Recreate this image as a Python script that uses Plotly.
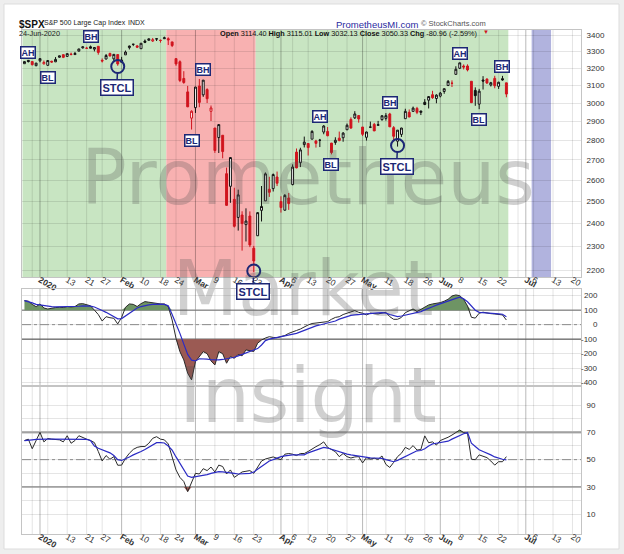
import numpy as np
import plotly.graph_objects as go
from datetime import datetime

# ---------------- data ----------------
dates = [
    "2019-12-26", "2019-12-27", "2019-12-30", "2019-12-31",
    "2020-01-02", "2020-01-03", "2020-01-06", "2020-01-07", "2020-01-08", "2020-01-09", "2020-01-10",
    "2020-01-13", "2020-01-14", "2020-01-15", "2020-01-16", "2020-01-17",
    "2020-01-21", "2020-01-22", "2020-01-23", "2020-01-24",
    "2020-01-27", "2020-01-28", "2020-01-29", "2020-01-30", "2020-01-31",
    "2020-02-03", "2020-02-04", "2020-02-05", "2020-02-06", "2020-02-07",
    "2020-02-10", "2020-02-11", "2020-02-12", "2020-02-13", "2020-02-14",
    "2020-02-18", "2020-02-19", "2020-02-20", "2020-02-21",
    "2020-02-24", "2020-02-25", "2020-02-26", "2020-02-27", "2020-02-28",
    "2020-03-02", "2020-03-03", "2020-03-04", "2020-03-05", "2020-03-06",
    "2020-03-09", "2020-03-10", "2020-03-11", "2020-03-12", "2020-03-13",
    "2020-03-16", "2020-03-17", "2020-03-18", "2020-03-19", "2020-03-20",
    "2020-03-23", "2020-03-24", "2020-03-25", "2020-03-26", "2020-03-27",
    "2020-03-30", "2020-03-31",
    "2020-04-01", "2020-04-02", "2020-04-03",
    "2020-04-06", "2020-04-07", "2020-04-08", "2020-04-09",
    "2020-04-13", "2020-04-14", "2020-04-15", "2020-04-16", "2020-04-17",
    "2020-04-20", "2020-04-21", "2020-04-22", "2020-04-23", "2020-04-24",
    "2020-04-27", "2020-04-28", "2020-04-29", "2020-04-30",
    "2020-05-01",
    "2020-05-04", "2020-05-05", "2020-05-06", "2020-05-07", "2020-05-08",
    "2020-05-11", "2020-05-12", "2020-05-13", "2020-05-14", "2020-05-15",
    "2020-05-18", "2020-05-19", "2020-05-20", "2020-05-21", "2020-05-22",
    "2020-05-26", "2020-05-27", "2020-05-28", "2020-05-29",
    "2020-06-01", "2020-06-02", "2020-06-03", "2020-06-04", "2020-06-05",
    "2020-06-08", "2020-06-09", "2020-06-10", "2020-06-11", "2020-06-12",
    "2020-06-15", "2020-06-16", "2020-06-17", "2020-06-18", "2020-06-19",
    "2020-06-22", "2020-06-23", "2020-06-24",
]
future_dates = [
    "2020-06-25", "2020-06-26", "2020-06-29", "2020-06-30", "2020-07-01", "2020-07-02",
    "2020-07-06", "2020-07-07", "2020-07-08", "2020-07-09", "2020-07-10",
    "2020-07-13", "2020-07-14", "2020-07-15", "2020-07-16", "2020-07-17",
    "2020-07-20", "2020-07-21", "2020-07-22",
]

open_ = [
    3227.20, 3247.23, 3240.09, 3215.18,
    3244.67, 3226.36, 3217.55, 3241.86, 3238.59, 3266.03, 3281.81, 3271.13, 3285.35, 3282.27, 3302.97,
    3323.66, 3321.03, 3330.02, 3315.77, 3333.10, 3247.16, 3255.35, 3289.46, 3256.45, 3282.33,
    3235.66, 3280.61, 3324.91, 3344.92, 3335.54, 3318.28, 3365.87, 3370.50, 3365.90, 3378.08,
    3369.04, 3380.39, 3380.45, 3360.50, 3257.61, 3238.94, 3139.90, 3062.54, 2916.90,
    2974.28, 3096.46, 3045.75, 3075.70, 2954.20, 2863.89, 2813.48, 2825.60, 2630.86, 2569.99,
    2508.59, 2425.66, 2436.50, 2393.48, 2431.94, 2290.71, 2344.44, 2457.77, 2501.29, 2555.87,
    2558.98, 2614.69,
    2498.08, 2458.54, 2514.92, 2578.28, 2738.65, 2685.00, 2776.99, 2782.46, 2805.10, 2795.64,
    2799.34, 2842.43, 2845.62, 2784.81, 2787.89, 2810.42, 2812.64, 2854.65, 2909.96, 2918.46, 2930.91,
    2869.09, 2815.01, 2868.88, 2883.14, 2878.26, 2908.83, 2915.46, 2939.50, 2865.86, 2794.54,
    2829.95, 2913.86, 2948.59, 2953.63, 2969.95, 2948.05, 3004.08, 3015.65, 3046.61, 3025.17,
    3038.78, 3064.78, 3098.90, 3111.56, 3163.84, 3199.92, 3213.32, 3213.42, 3123.53, 3071.04,
    2993.76, 3131.00, 3136.13, 3101.64, 3140.29, 3094.42, 3138.70, 3114.40,
]
high = [
    3240.08, 3247.93, 3240.92, 3231.72,
    3258.14, 3246.15, 3246.84, 3244.91, 3267.07, 3275.58, 3282.99, 3288.13, 3294.25, 3298.66, 3317.11,
    3329.88, 3329.79, 3337.77, 3326.88, 3333.18, 3258.85, 3285.78, 3293.47, 3285.91, 3282.33,
    3268.44, 3306.92, 3337.58, 3347.96, 3341.42, 3352.26, 3375.63, 3381.47, 3385.09, 3380.69,
    3375.01, 3393.52, 3389.15, 3360.76, 3259.81, 3246.99, 3182.51, 3097.07, 2959.72,
    3090.96, 3136.72, 3130.97, 3083.04, 2985.93, 2863.89, 2882.59, 2825.60, 2660.95, 2711.33,
    2562.98, 2553.93, 2453.57, 2466.97, 2453.01, 2300.73, 2449.71, 2571.42, 2637.01, 2615.91,
    2631.80, 2641.39,
    2522.75, 2533.22, 2538.18, 2676.85, 2756.89, 2760.75, 2818.57, 2782.46, 2851.85, 2801.88,
    2806.51, 2879.22, 2868.98, 2785.54, 2815.10, 2844.90, 2842.71, 2887.72, 2921.15, 2954.86, 2930.91,
    2869.09, 2844.24, 2898.23, 2891.11, 2901.92, 2932.16, 2944.25, 2945.82, 2874.14, 2852.80,
    2865.01, 2968.09, 2964.21, 2980.29, 2978.50, 2956.76, 3021.72, 3036.25, 3068.67, 3049.17,
    3062.18, 3081.07, 3130.94, 3128.91, 3211.72, 3233.13, 3222.71, 3223.27, 3123.53, 3088.42,
    3079.76, 3153.45, 3141.16, 3120.00, 3155.53, 3120.92, 3154.90, 3115.01,
]
low = [
    3227.20, 3234.37, 3216.57, 3212.03,
    3235.53, 3222.34, 3214.64, 3232.43, 3236.67, 3263.67, 3260.86, 3268.43, 3277.19, 3280.69, 3302.82,
    3318.86, 3316.61, 3320.04, 3301.87, 3281.53, 3234.50, 3253.22, 3271.89, 3242.80, 3214.68,
    3235.66, 3280.61, 3313.75, 3334.39, 3322.12, 3317.77, 3352.72, 3369.72, 3360.52, 3366.15,
    3355.61, 3378.83, 3341.02, 3328.45, 3214.65, 3118.77, 3108.99, 2977.39, 2855.84,
    2945.19, 2976.63, 3034.38, 2999.83, 2901.54, 2734.43, 2734.00, 2707.22, 2478.86, 2492.37,
    2380.94, 2367.04, 2280.52, 2319.78, 2295.56, 2191.86, 2344.44, 2407.53, 2500.72, 2520.02,
    2545.28, 2571.15,
    2447.49, 2455.79, 2459.96, 2574.57, 2657.67, 2663.30, 2762.36, 2721.17, 2805.10, 2761.54,
    2764.32, 2830.88, 2820.43, 2727.10, 2775.95, 2794.26, 2791.76, 2852.89, 2860.71, 2912.16, 2892.47,
    2821.61, 2797.85, 2863.55, 2847.65, 2876.48, 2902.88, 2903.44, 2869.59, 2793.15, 2766.64,
    2816.78, 2913.86, 2922.35, 2953.63, 2938.57, 2933.59, 2988.17, 2969.75, 3023.40, 2998.61,
    3031.54, 3051.64, 3098.90, 3090.41, 3163.84, 3196.00, 3193.11, 3181.49, 2999.49, 2984.47,
    2965.66, 3076.06, 3108.03, 3093.51, 3083.11, 3079.39, 3127.12, 3032.13,
]
close = [
    3239.91, 3240.02, 3221.29, 3230.78,
    3257.85, 3234.85, 3246.28, 3237.18, 3253.05, 3274.70, 3265.35, 3288.13, 3283.15, 3289.29, 3316.81,
    3329.62, 3320.79, 3321.75, 3325.54, 3295.47, 3243.63, 3276.24, 3273.40, 3283.66, 3225.52,
    3248.92, 3297.59, 3334.69, 3345.78, 3327.71, 3352.09, 3357.75, 3379.45, 3373.94, 3380.16,
    3370.29, 3386.15, 3373.23, 3337.75, 3225.89, 3128.21, 3116.39, 2978.76, 2954.22,
    3090.23, 3003.37, 3130.12, 3023.94, 2972.37, 2746.56, 2882.23, 2741.38, 2480.64, 2711.02,
    2386.13, 2529.19, 2398.10, 2409.39, 2304.92, 2237.40, 2447.33, 2475.56, 2630.07, 2541.47,
    2626.65, 2584.59,
    2470.50, 2526.90, 2488.65, 2663.68, 2659.41, 2749.98, 2789.82, 2761.63, 2846.06, 2783.36,
    2799.55, 2874.56, 2823.16, 2736.56, 2799.31, 2797.80, 2836.74, 2878.48, 2863.39, 2939.51, 2912.43,
    2830.71, 2842.74, 2868.44, 2848.42, 2881.19, 2929.80, 2930.32, 2870.12, 2820.00, 2852.50,
    2863.70, 2953.91, 2922.94, 2971.61, 2948.51, 2955.45, 2991.77, 3036.13, 3029.73, 3044.31,
    3055.73, 3080.82, 3122.87, 3112.35, 3193.93, 3232.39, 3207.18, 3190.14, 3002.10, 3041.31,
    3066.59, 3124.74, 3113.49, 3115.34, 3097.74, 3117.86, 3131.29, 3050.33,
]
prev_close = 3223.38  # close before the first bar (sets the first candle's colour)

cci = [
    166, 162, 140, 124,
    143, 115, 108, 115, 118, 120, 118, 125, 122, 125, 143, 145, 138, 130, 100, 70, 25, 55, 48, 44, 5,
    50, 120, 143, 140, 125, 145, 159, 155, 150, 145, 143, 143, 125, 32, -94, -186, -243, -335, -381,
    -255, -220, -186, -200, -250, -278, -186, -200, -266, -220, -232, -205, -215, -174, -180, -185,
    -128, -106, -92, -83, -88, -90,
    -82, -75, -60, -48, -40, -30, -15, -2, 8, 12, 14, 18, 21, 37, 50, 55, 70, 79, 90, 97, 85,
    79, 67, 79, 76, 74, 80, 85, 55, 37, 37, 50, 83, 97, 108, 90, 105, 120, 136, 143, 147,
    152, 162, 175, 198, 205, 200, 175, 129, 51, 45, 79, 86, 80, 76, 74, 72, 67, 32,
]
cci_avg = [
    166, 160, 150, 140,
    135, 130, 126, 124, 123, 123, 123, 124, 124, 125, 127, 129, 130, 128, 122, 112, 98, 85, 70, 55, 40,
    42, 60, 80, 100, 115, 125, 132, 137, 140, 142, 142, 140, 130, 70, 10, -60, -134, -205, -245,
    -250, -235, -235, -238, -242, -245, -243, -240, -236, -232, -225, -215, -205, -195, -186, -178,
    -165, -140, -110, -100, -94, -90,
    -83, -80, -75, -68, -60, -50, -40, -28, -15, -8, -2, 5, 10, 14, 25, 38, 48, 58, 64, 68, 71,
    73, 74, 76, 78, 81, 83, 80, 70, 62, 56, 60, 66, 72, 77, 82, 90, 102, 115, 124, 135,
    145, 155, 163, 172, 181, 189, 178, 158, 125, 100, 85, 84, 82, 79, 77, 75, 72, 55,
]
rsi = [
    64, 65, 58, 64,
    70, 63, 65.5, 65, 65, 64.5, 63, 67.5, 62, 64, 67.5, 66, 65, 64, 62.5, 56, 49, 53, 50.3, 52.2, 45.9,
    46, 51, 54.7, 57.5, 59, 59.6, 59.6, 62, 65.6, 66.8, 65, 64.5, 61.5, 52.5, 42.5, 37, 34, 26.6, 33,
    40, 39.5, 43.4, 42, 44.6, 41, 46, 45, 39.5, 42.5, 37, 39, 41, 41.5, 42, 40, 45, 49, 50.5, 51.5, 52, 51,
    50, 54, 54.5, 54, 53, 54.5, 54.5, 56, 58, 59.5, 61, 63, 59, 57.5, 55.8, 52.2, 54.5, 52.2, 51.2, 52, 52.2,
    47.6, 51.5, 50.5, 51, 50.3, 52.7, 46.5, 44.3, 48, 52.2, 54.7, 59, 57.5, 60.3, 57, 57.5, 67.4, 62.4, 63, 60.7,
    64, 65, 66.4, 68, 70, 71.7, 69.8, 69.3, 50.3, 50, 53.5, 52.2, 51.5, 49, 46, 48.5, 48.5, 52.2,
]
rsi_avg = [
    64, 64.5, 64.5, 64.8,
    65, 65, 65, 65, 65, 65, 65, 65, 65, 65, 65, 65, 64.8, 64, 60, 58.3, 57, 56, 55, 53, 50,
    49.4, 50.5, 52, 53.5, 54.5, 56, 57.5, 59, 61, 62.4, 62.4, 62.2, 60, 57, 52, 47, 42, 38, 37.1,
    37.5, 38, 38.5, 39, 40, 40.8, 41.2, 41, 40.8, 40.5, 40, 39.5, 39.5, 39.8, 40, 41, 43, 45, 47, 49, 50, 51.2,
    52.2, 52.8, 53.3, 53.5, 53.5, 53.5, 53.5, 55, 56, 56.7, 58, 59, 58.5, 57.5, 56.5, 55.5, 54.8, 54, 53.5, 53, 52.5,
    52, 51.7, 51.3, 51.2, 51, 51, 50, 49, 48.5, 49.5, 51, 52.5, 54, 55.5, 56.5, 56.7, 58, 60, 61.5, 62,
    62.4, 63, 63.5, 65, 66.5, 68, 69, 69.8, 62, 59.6, 57.2, 56, 55, 53.5, 52, 51, 50.3, 49.9,
]

tick_labels = [
    ("2020-01-02", "<b>2020</b>"), ("2020-01-13", "13"), ("2020-01-21", "21"), ("2020-01-27", "27"),
    ("2020-02-03", "<b>Feb</b>"), ("2020-02-10", "10"), ("2020-02-18", "18"), ("2020-02-24", "24"),
    ("2020-03-02", "<b>Mar</b>"), ("2020-03-09", "9"), ("2020-03-16", "16"), ("2020-03-23", "23"),
    ("2020-04-01", "<b>Apr</b>"), ("2020-04-06", "6"), ("2020-04-13", "13"), ("2020-04-20", "20"),
    ("2020-04-27", "27"), ("2020-05-01", "<b>May</b>"), ("2020-05-11", "11"), ("2020-05-18", "18"),
    ("2020-05-26", "26"), ("2020-06-01", "<b>Jun</b>"), ("2020-06-08", "8"), ("2020-06-15", "15"),
    ("2020-06-22", "22"), ("2020-07-01", "<b>Jul</b>"), ("2020-07-06", "6"), ("2020-07-13", "13"),
    ("2020-07-20", "20"),
]
week_starts = [
    "2019-12-30", "2020-01-06", "2020-01-13", "2020-01-21", "2020-01-27", "2020-02-10", "2020-02-18",
    "2020-02-24", "2020-03-09", "2020-03-16", "2020-03-23", "2020-03-30", "2020-04-06", "2020-04-13",
    "2020-04-20", "2020-04-27", "2020-05-04", "2020-05-11", "2020-05-18", "2020-05-26", "2020-06-08",
    "2020-06-15", "2020-06-22", "2020-06-29", "2020-07-06", "2020-07-13", "2020-07-20",
]
month_starts = ["2020-01-02", "2020-02-03", "2020-03-02", "2020-04-01", "2020-05-01", "2020-06-01", "2020-07-01"]

price_ticks = [2200, 2300, 2400, 2500, 2600, 2700, 2800, 2900, 3000, 3100, 3200, 3300, 3400]
cci_ticks = [200, 100, 0, -100, -200, -300, -400]
rsi_ticks = [10, 20, 30, 40, 50, 60, 70, 80, 90]
rsi_labeled = [10, 30, 50, 70, 90]

regions = [  # (from, to, colour)
    ("2019-12-26", "2020-02-19", "#c8e5c2"),
    ("2020-02-20", "2020-03-23", "#f8b1b1"),
    ("2020-03-24", "2020-06-24", "#c8e5c2"),
    ("2020-07-06", "2020-07-10", "#b1b3de"),
]
labels = [  # (text, date, price)
    ("AH", "2019-12-27", 3296), ("BL", "2020-01-06", 3144), ("BH", "2020-01-22", 3392),
    ("AH", "2020-02-19", 3455), ("BH", "2020-03-04", 3191), ("BL", "2020-02-28", 2797),
    ("AH", "2020-04-16", 2925), ("BL", "2020-04-21", 2676), ("BH", "2020-05-12", 3001),
    ("AH", "2020-06-08", 3287), ("BH", "2020-06-23", 3209), ("BL", "2020-06-15", 2908),
]
stcl = [("2020-01-31", 3210), ("2020-03-23", 2196), ("2020-05-14", 2772)]

# ---------------- layout constants ----------------
W, H = 624, 554
ML, MR, MT, MB = 22, 43, 30, 20
PW, PH = W - ML - MR, H - MT - MB


def fx(px):
    return (px - ML) / PW


def fy(py):
    return (H - MB - py) / PH


XR = [-0.63, 143.2]
MAIN_R = [np.log10(2171.6), np.log10(3435.6)]
CCI_R = [-423, 246]
RSI_R = [-4.4, 103.9]
MAIN_TOP, MAIN_BOT = 30, 277
CCI_TOP, CCI_BOT = 289, 386
RSI_TOP, RSI_BOT = 386, 534
dom_main = [fy(MAIN_BOT), 1.0]
dom_cci = [fy(CCI_BOT), fy(CCI_TOP)]
dom_rsi = [0.0, fy(RSI_TOP)]

NAVY = "#1c2775"
RED = "#d0141e"
BLACK = "#111111"
BORDER = "#c4c4c4"
GRID = "rgba(0,0,0,0.10)"
FONT = "Liberation Sans, Arial, sans-serif"


def main_val(py):
    return 10 ** (MAIN_R[1] - (py - MAIN_TOP) / (MAIN_BOT - MAIN_TOP) * (MAIN_R[1] - MAIN_R[0]))


def lin_val(py, top, bot, rng):
    return rng[1] - (py - top) / (bot - top) * (rng[1] - rng[0])


def xval(px):
    return XR[0] + (px - ML) / PW * (XR[1] - XR[0])


pos = {d: i for i, d in enumerate(dates + future_dates)}
x = [pos[d] for d in dates]

fig = go.Figure()

# watermark (behind the marks); each word anchored inside the panel it is centred on
WM_FONT = dict(family="DejaVu Sans, sans-serif", size=76, color="rgba(80,80,80,0.27)")
for word, cx, yv, xa, ya in (
        ("Prometheus", 308, main_val(185), "x", "y"),
        ("Market", 303, lin_val(296, CCI_TOP, CCI_BOT, CCI_R), "x2", "y2"),
        ("Insight", 308, lin_val(403, RSI_TOP, RSI_BOT, RSI_R), "x3", "y3")):
    fig.add_trace(go.Scatter(
        x=[xval(cx)], y=[yv], mode="text", text=[word], textposition="middle center",
        textfont=WM_FONT, cliponaxis=False, hoverinfo="skip", showlegend=False, xaxis=xa, yaxis=ya))

# candles: black when close >= previous close, red otherwise; hollow when close > open
prev = [prev_close] + close[:-1]
up = [c >= p for c, p in zip(close, prev)]


def pick(arr, mask):
    return [a for a, m in zip(arr, mask) if m]


for mask, col in ((up, BLACK), ([not u for u in up], RED)):
    fig.add_trace(go.Candlestick(
        x=pick(x, mask), open=pick(open_, mask), high=pick(high, mask),
        low=pick(low, mask), close=pick(close, mask),
        increasing=dict(line=dict(color=col, width=1), fillcolor="white"),
        decreasing=dict(line=dict(color=col, width=1), fillcolor=col),
        whiskerwidth=0, hoverinfo="skip", showlegend=False, xaxis="x", yaxis="y"))

# STCL circles
fig.add_trace(go.Scatter(
    x=[pos[d] for d, _ in stcl], y=[p for _, p in stcl], mode="markers",
    marker=dict(symbol="circle-open", size=13, color=NAVY, line=dict(width=2, color=NAVY)),
    cliponaxis=False, hoverinfo="skip", showlegend=False, xaxis="x", yaxis="y"))

GREEN_FILL = "#6e9464"
BROWN_FILL = "#9b5a53"


def band(xa, ya, base, vals, color):
    fig.add_trace(go.Scatter(x=x, y=[base] * len(x), mode="lines", line=dict(width=0),
                             hoverinfo="skip", showlegend=False, xaxis=xa, yaxis=ya))
    fig.add_trace(go.Scatter(x=x, y=list(vals), mode="lines", line=dict(width=0), fill="tonexty",
                             fillcolor=color, hoverinfo="skip", showlegend=False, xaxis=xa, yaxis=ya))


cci_a = np.array(cci, float)
rsi_a = np.array(rsi, float)
band("x2", "y2", 100, np.maximum(cci_a, 100), GREEN_FILL)
band("x2", "y2", -100, np.minimum(cci_a, -100), BROWN_FILL)
band("x3", "y3", 70, np.maximum(rsi_a, 70), GREEN_FILL)
band("x3", "y3", 30, np.minimum(rsi_a, 30), BROWN_FILL)

for xa, ya, v, a in (("x2", "y2", cci, cci_avg), ("x3", "y3", rsi, rsi_avg)):
    fig.add_trace(go.Scatter(x=x, y=v, mode="lines", line=dict(color="#2a2a2a", width=1),
                             hoverinfo="skip", showlegend=False, xaxis=xa, yaxis=ya))
    fig.add_trace(go.Scatter(x=x, y=a, mode="lines", line=dict(color="#2b2bc4", width=1.2),
                             hoverinfo="skip", showlegend=False, xaxis=xa, yaxis=ya))

# ---------------- shapes ----------------
shapes = []
shapes.append(dict(type="rect", xref="paper", yref="paper", x0=fx(4), x1=fx(619), y0=fy(549), y1=fy(4),
                   fillcolor="white", line=dict(color="#dddddd", width=1), layer="below"))
for a, b, c in regions:
    shapes.append(dict(type="rect", xref="x", yref="y domain", x0=max(pos[a] - 0.5, XR[0]),
                       x1=pos[b] + 0.5, y0=0, y1=1, fillcolor=c, line=dict(width=0), layer="below"))
for xa, yd in (("x", "y domain"), ("x2", "y2 domain"), ("x3", "y3 domain")):
    for d in week_starts:
        shapes.append(dict(type="line", xref=xa, yref=yd, x0=pos[d], x1=pos[d], y0=0, y1=1,
                           line=dict(color="rgba(0,0,0,0.11)", width=1), layer="below"))
    for d in month_starts:
        shapes.append(dict(type="line", xref=xa, yref=yd, x0=pos[d], x1=pos[d], y0=0, y1=1,
                           line=dict(color="rgba(0,0,0,0.28)", width=1), layer="below"))
for ya, v, col, w, dash in (("y2", 100, "#8a8a8a", 1.3, "solid"), ("y2", 0, "#9a9a9a", 1, "dashdot"),
                            ("y2", -100, "#6a6a6a", 1.3, "solid"), ("y3", 70, "#b4b4b4", 2.5, "solid"),
                            ("y3", 50, "#9a9a9a", 1, "dashdot"), ("y3", 30, "#9c9c9c", 1.5, "solid")):
    shapes.append(dict(type="line", xref=ya.replace("y", "x") + " domain", yref=ya, x0=0, x1=1, y0=v, y1=v,
                       line=dict(color=col, width=w, dash=dash), layer="below"))

# ---------------- annotations ----------------
ann = []
for t, d, p in labels:
    ann.append(dict(x=pos[d], y=np.log10(p), xref="x", yref="y", text=f"<b>{t}</b>", showarrow=False,
                    font=dict(family=FONT, size=9, color=NAVY), bgcolor="white", bordercolor=NAVY,
                    borderwidth=1.5, borderpad=0))
for d, p in stcl:
    ann.append(dict(x=pos[d], y=np.log10(p), xref="x", yref="y", text="<b>STCL</b>", showarrow=True,
                    arrowhead=0, arrowwidth=1.5, arrowcolor=NAVY, ax=-1, ay=21, standoff=6.5,
                    font=dict(family=FONT, size=11, color=NAVY), bgcolor="white", bordercolor=NAVY,
                    borderwidth=1.5, borderpad=1))
for v in cci_ticks:
    ann.append(dict(x=fx(600), y=v, xref="paper", yref="y2", text=str(v), showarrow=False,
                    xanchor="right", font=dict(family=FONT, size=8, color="#333")))

last = datetime.strptime(dates[-1], "%Y-%m-%d").strftime("%d-%b-%Y")
chg = close[-1] - close[-2]
pct = chg / close[-2] * 100
ann += [
    dict(x=fx(17), y=fy(17), xref="paper", yref="paper", xanchor="left", showarrow=False,
         text="<b>$SPX</b>", font=dict(family=FONT, size=10, color="#111")),
    dict(x=fx(42), y=fy(17), xref="paper", yref="paper", xanchor="left", showarrow=False,
         text="S&amp;P 500 Large Cap Index", font=dict(family=FONT, size=7, color="#222")),
    dict(x=fx(126), y=fy(17), xref="paper", yref="paper", xanchor="left", showarrow=False,
         text="INDX", font=dict(family=FONT, size=7, color="#222")),
    dict(x=fx(17), y=fy(27), xref="paper", yref="paper", xanchor="left", showarrow=False,
         text=last, font=dict(family=FONT, size=7.3, color="#222")),
    dict(x=fx(420), y=fy(17), xref="paper", yref="paper", xanchor="right", showarrow=False,
         text="PrometheusMI.com", font=dict(family=FONT, size=9.5, color="#2a2aa0")),
    dict(x=fx(488), y=fy(17), xref="paper", yref="paper", xanchor="right", showarrow=False,
         text="© StockCharts.com", font=dict(family=FONT, size=7.5, color="#555")),
    dict(x=fx(479), y=fy(27), xref="paper", yref="paper", xanchor="right", showarrow=False,
         text=(f"<b>Open</b> {open_[-1]:.2f} <b>High</b> {high[-1]:.2f} <b>Low</b> {low[-1]:.2f} "
               f"<b>Close</b> {close[-1]:.2f} <b>Chg</b> {chg:.2f} ({pct:.2f}%)"),
         font=dict(family=FONT, size=7.3, color="#111")),
    dict(x=fx(481), y=fy(27), xref="paper", yref="paper", xanchor="left", showarrow=False,
         text="▼", font=dict(family=FONT, size=6, color=RED)),
]

tv = [pos[d] for d, _ in tick_labels]
tt = [t for _, t in tick_labels]

xcommon = dict(range=XR, showgrid=False, zeroline=False, ticks="", showline=True, mirror=True,
               linecolor=BORDER, linewidth=1, tickvals=tv, ticktext=tt, automargin=False,
               ticklabelstandoff=-6, tickfont=dict(family=FONT, size=8.5, color="#333"))
ycommon = dict(side="right", zeroline=False, ticks="", showline=True, mirror=True, linecolor=BORDER,
               linewidth=1, gridcolor=GRID, gridwidth=1, tickfont=dict(family=FONT, size=8, color="#333"),
               ticklabelstandoff=3, automargin=False)

fig.update_layout(
    width=W, height=H, margin=dict(l=ML, r=MR, t=MT, b=MB, autoexpand=False),
    paper_bgcolor="#eeeeee", plot_bgcolor="rgba(0,0,0,0)", showlegend=False,
    font=dict(family=FONT, size=8, color="#333"),
    xaxis=dict(xcommon, anchor="y", domain=[0, 1], rangeslider=dict(visible=False)),
    xaxis2=dict(xcommon, anchor="y2", domain=[0, 1], matches="x", showticklabels=False),
    xaxis3=dict(xcommon, anchor="y3", domain=[0, 1], matches="x"),
    yaxis=dict(ycommon, domain=dom_main, type="log", range=MAIN_R, tickvals=price_ticks,
               ticktext=[str(v) for v in price_ticks]),
    yaxis2=dict(ycommon, domain=dom_cci, range=CCI_R, tickvals=cci_ticks, showticklabels=False),
    yaxis3=dict(ycommon, domain=dom_rsi, range=RSI_R, tickvals=rsi_ticks,
                ticktext=[str(v) if v in rsi_labeled else "" for v in rsi_ticks]),
    shapes=shapes, annotations=ann,
)

fig.write_html("out.html", config=dict(displayModeBar=False),
               post_script="document.body.style.margin='0px';document.body.style.overflow='hidden';")
